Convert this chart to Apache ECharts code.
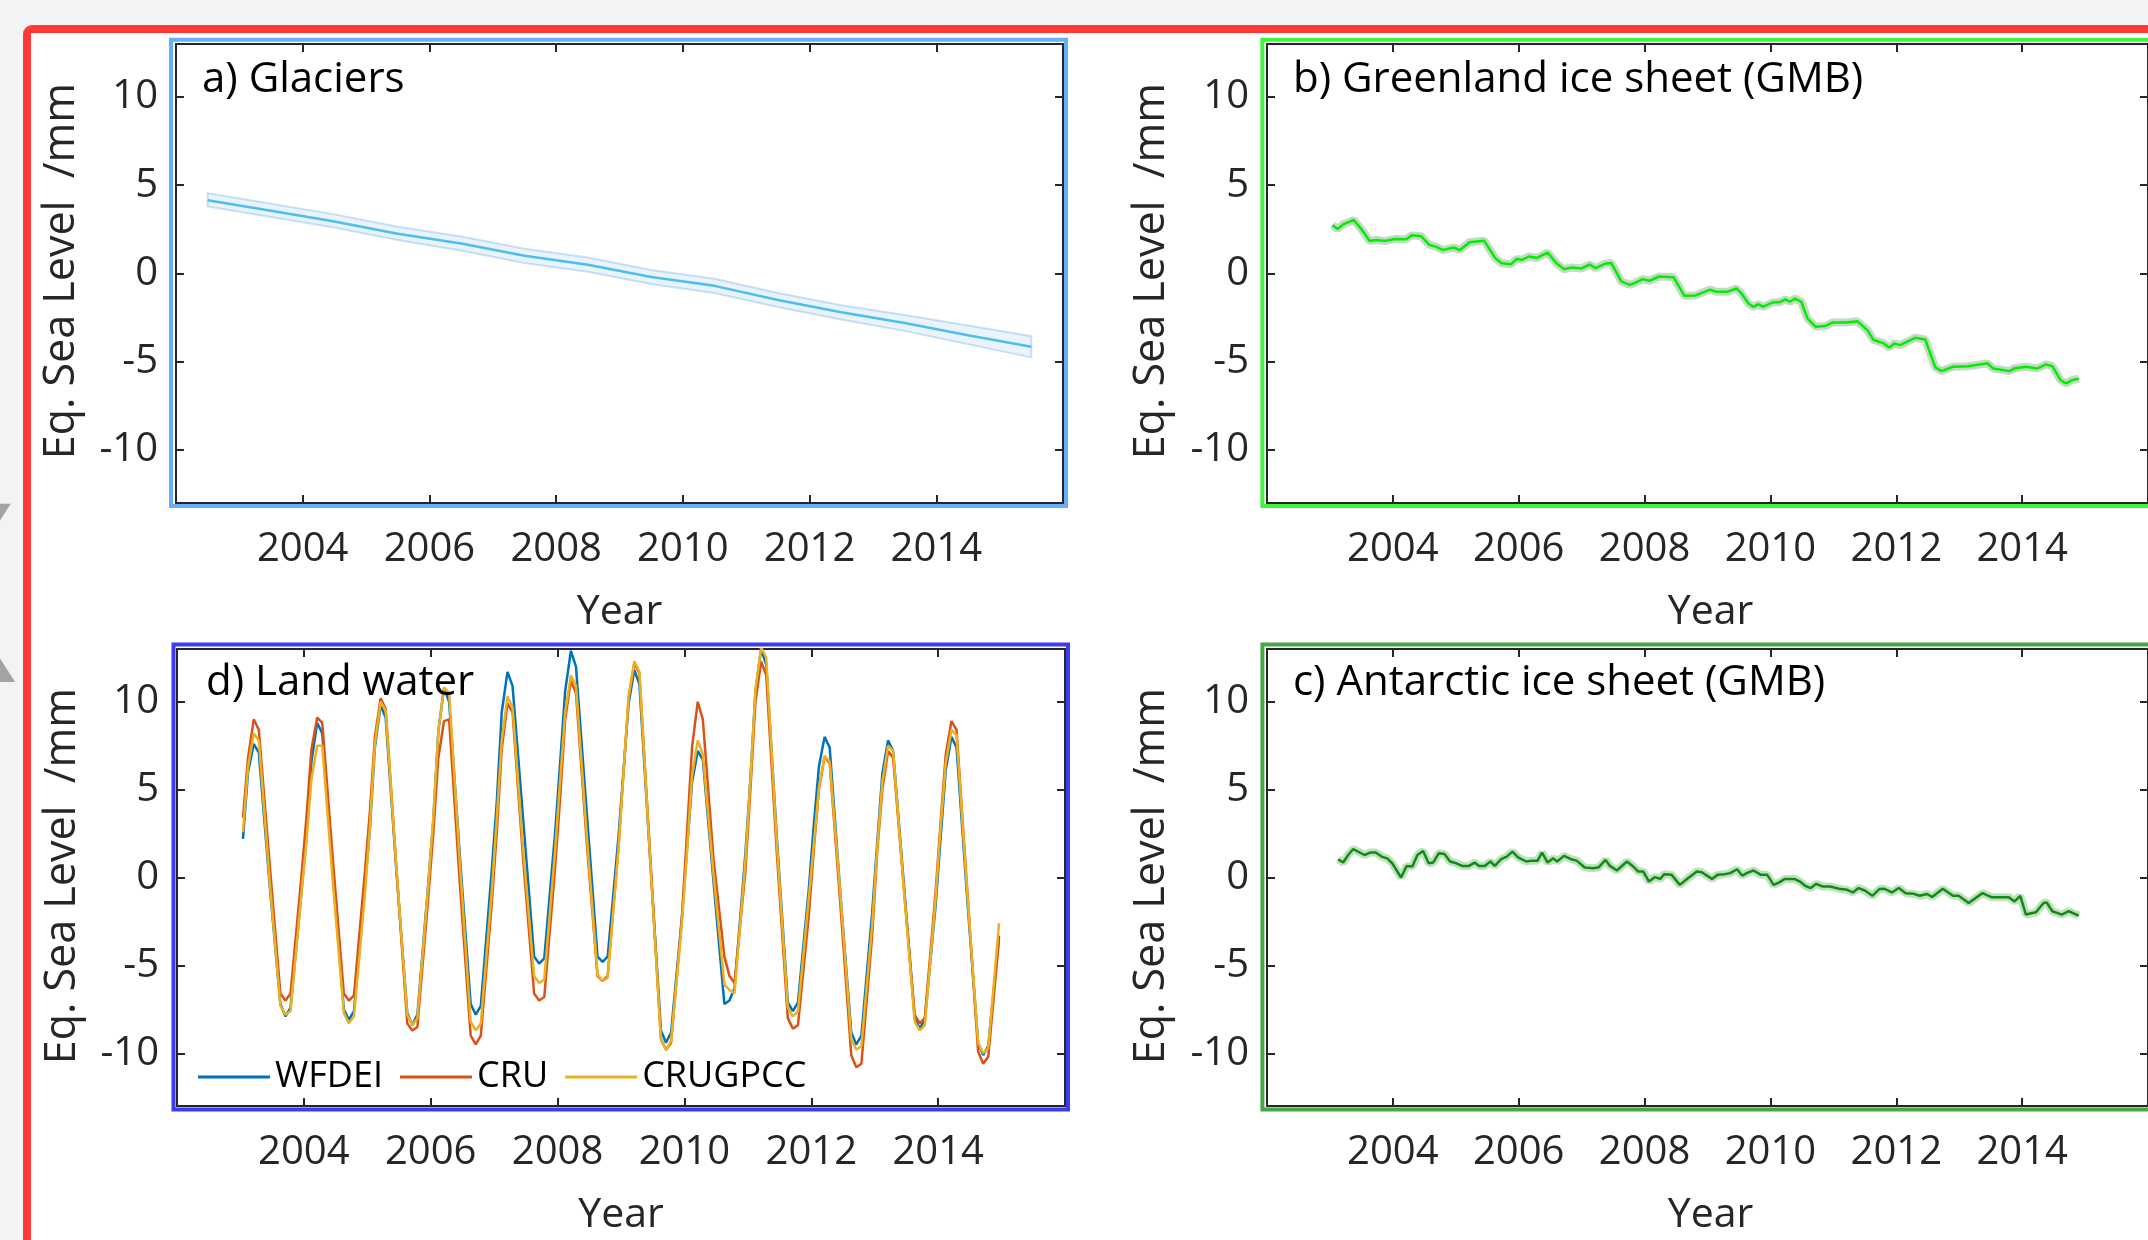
<!DOCTYPE html>
<html>
<head>
<meta charset="utf-8">
<script src="https://cdn.jsdelivr.net/npm/echarts@6/dist/echarts.min.js"></script>
<style>
  html, body { margin: 0; padding: 0; background: #f2f3f5; }
  #chart { width: 2148px; height: 1240px; }
</style>
</head>
<body>
<div id="chart"></div>
<script>
// ---- data ----
var yearTicks = [2004, 2006, 2008, 2010, 2012, 2014];
var levelTicks = [-10, -5, 0, 5, 10];

// a) Glaciers: centre line and uncertainty band
var glacierTime  = [2002.5, 2003.5, 2004.5, 2005.5, 2006.5, 2007.5, 2008.5, 2009.5, 2010.5, 2011.5, 2012.5, 2013.5, 2014.5, 2015.5];
var glacierValue = [4.15, 3.55, 2.95, 2.25, 1.7, 1.0, 0.5, -0.2, -0.7, -1.5, -2.2, -2.8, -3.5, -4.15];
var glacierUpper = [4.55, 3.95, 3.35, 2.65, 2.1, 1.4, 0.9, 0.2, -0.3, -1.1, -1.8, -2.35, -2.95, -3.55];
var glacierLower = [3.8, 3.2, 2.6, 1.9, 1.3, 0.6, 0.1, -0.6, -1.1, -1.9, -2.6, -3.25, -4.0, -4.75];

// b) Greenland ice sheet (GMB)
var greenTime = [2003.04,2003.12,2003.21,2003.38,2003.53,2003.63,2003.74,2003.87,2004.03,2004.21,2004.30,2004.45,2004.58,2004.68,2004.80,2004.97,2005.06,2005.22,2005.45,2005.63,2005.73,2005.88,2005.97,2006.05,2006.16,2006.29,2006.46,2006.60,2006.72,2006.84,2006.99,2007.13,2007.22,2007.37,2007.47,2007.63,2007.76,2007.84,2007.97,2008.08,2008.23,2008.46,2008.63,2008.81,2009.04,2009.14,2009.31,2009.46,2009.54,2009.65,2009.73,2009.81,2009.88,2010.04,2010.15,2010.24,2010.31,2010.39,2010.49,2010.59,2010.72,2010.87,2010.99,2011.20,2011.38,2011.54,2011.64,2011.80,2011.89,2011.97,2012.06,2012.30,2012.46,2012.62,2012.72,2012.90,2013.14,2013.45,2013.54,2013.80,2013.87,2014.06,2014.24,2014.38,2014.48,2014.61,2014.70,2014.79,2014.90];
var greenValue = [2.74,2.52,2.78,3.03,2.37,1.84,1.90,1.84,1.95,1.94,2.16,2.11,1.62,1.52,1.33,1.48,1.32,1.77,1.86,0.86,0.58,0.53,0.83,0.77,0.96,0.88,1.18,0.58,0.24,0.34,0.28,0.51,0.30,0.55,0.60,-0.45,-0.64,-0.55,-0.32,-0.41,-0.17,-0.21,-1.26,-1.24,-0.91,-1.04,-1.04,-0.85,-1.13,-1.70,-1.89,-1.74,-1.89,-1.64,-1.62,-1.47,-1.60,-1.42,-1.60,-2.55,-3.02,-2.98,-2.77,-2.77,-2.70,-3.21,-3.77,-3.96,-4.19,-3.96,-4.06,-3.64,-3.74,-5.32,-5.53,-5.28,-5.25,-5.09,-5.38,-5.53,-5.38,-5.28,-5.38,-5.15,-5.25,-6.04,-6.23,-6.04,-5.96];

// c) Antarctic ice sheet (GMB)
var antTime = [2003.13,2003.21,2003.29,2003.37,2003.55,2003.64,2003.73,2003.82,2003.91,2003.99,2004.13,2004.22,2004.31,2004.39,2004.48,2004.57,2004.64,2004.73,2004.82,2004.91,2005.01,2005.10,2005.21,2005.30,2005.37,2005.46,2005.55,2005.62,2005.72,2005.81,2005.90,2005.99,2006.12,2006.21,2006.30,2006.37,2006.46,2006.55,2006.61,2006.72,2006.83,2006.92,2007.05,2007.19,2007.27,2007.38,2007.45,2007.56,2007.72,2007.81,2007.90,2007.98,2008.07,2008.16,2008.25,2008.31,2008.43,2008.56,2008.69,2008.83,2008.91,2009.07,2009.16,2009.27,2009.36,2009.47,2009.55,2009.64,2009.73,2009.85,2009.95,2010.05,2010.14,2010.23,2010.38,2010.47,2010.55,2010.64,2010.73,2010.82,2010.95,2011.09,2011.22,2011.31,2011.40,2011.50,2011.62,2011.73,2011.81,2011.93,2012.04,2012.15,2012.27,2012.37,2012.49,2012.57,2012.74,2012.90,2012.99,2013.15,2013.37,2013.52,2013.79,2013.88,2013.97,2014.06,2014.22,2014.34,2014.39,2014.48,2014.63,2014.74,2014.90];
var antValue = [1.04,0.85,1.28,1.62,1.28,1.42,1.42,1.19,1.09,0.81,0.00,0.66,0.62,1.28,1.51,0.81,0.85,1.38,1.34,0.91,0.81,0.66,0.66,0.85,0.66,0.66,0.91,0.66,1.04,1.19,1.47,1.15,0.91,0.96,0.96,1.42,0.85,1.09,0.91,1.23,1.04,0.96,0.57,0.53,0.58,1.00,0.66,0.40,0.91,0.66,0.34,0.34,-0.23,0.02,-0.08,0.19,0.15,-0.42,-0.04,0.34,0.30,-0.08,0.15,0.19,0.25,0.47,0.11,0.28,0.40,0.15,0.15,-0.42,-0.28,-0.08,-0.08,-0.23,-0.47,-0.60,-0.36,-0.51,-0.51,-0.64,-0.70,-0.85,-0.60,-0.74,-1.04,-0.66,-0.64,-0.85,-0.60,-0.89,-0.92,-1.04,-0.94,-1.11,-0.64,-1.04,-1.04,-1.45,-0.89,-1.13,-1.13,-1.36,-1.04,-2.11,-1.98,-1.45,-1.42,-1.92,-2.11,-1.92,-2.17];

// d) Land water: samples at these fractions of each year
var landYears = [2003, 2004, 2005, 2006, 2007, 2008, 2009, 2010, 2011, 2012, 2013, 2014];
var landPhase = [0.04, 0.12, 0.21, 0.29, 0.46, 0.63, 0.71, 0.79, 0.96];
var wfdei = [
  2.2, 6.0, 7.6, 7.1, -0.4, -7.2, -7.9, -7.4, -0.9,
  2.3, 6.6, 8.8, 8.2, 0.1, -7.5, -8.1, -7.6, -0.6,
  2.7, 7.4, 9.8, 9.1, 0.3, -7.7, -8.4, -7.8, -0.4,
  3.2, 8.3, 10.8, 10.0, 1.2, -7.2, -7.8, -7.3, 0.3,
  4.2, 9.4, 11.7, 10.9, 3.2, -4.5, -4.9, -4.6, 2.5,
  6.5, 10.6, 12.9, 12.0, 3.7, -4.5, -4.8, -4.5, 2.3,
  6.1, 9.9, 11.8, 11.0, 1.0, -8.7, -9.4, -8.8, -2.3,
  1.6, 5.4, 7.2, 6.7, -0.3, -7.2, -7.0, -6.3, 1.3,
  5.6, 10.6, 13.0, 12.1, 2.1, -7.1, -7.6, -7.1, -0.7,
  3.0, 6.3, 8.0, 7.4, -1.0, -8.8, -9.5, -9.0, -2.0,
  2.0, 5.9, 7.8, 7.2, -0.4, -8.0, -8.6, -8.1, -1.6,
  2.3, 6.1, 8.0, 7.4, -1.3, -9.4, -10.1, -9.6, -3.3
];
var cru = [
  3.4, 6.8, 9.0, 8.4, 0.8, -6.6, -7.0, -6.6, 0.0,
  3.4, 7.3, 9.1, 8.8, 0.9, -6.6, -7.0, -6.7, 0.2,
  3.7, 8.0, 10.2, 9.6, 0.5, -8.3, -8.7, -8.5, -1.2,
  2.5, 6.8, 8.9, 9.0, -0.4, -9.0, -9.5, -9.0, -1.6,
  2.5, 7.3, 9.9, 9.4, 0.9, -6.6, -7.0, -6.8, 0.5,
  4.5, 9.0, 11.2, 10.5, 2.0, -5.6, -5.9, -5.6, 1.7,
  6.0, 10.2, 12.2, 11.6, 1.2, -9.2, -9.8, -9.4, -2.3,
  2.5, 7.4, 10.0, 9.0, 1.0, -4.5, -5.6, -6.0, 0.3,
  5.0, 10.0, 12.3, 11.5, 1.2, -8.0, -8.6, -8.4, -2.2,
  1.6, 5.0, 6.9, 6.5, -1.6, -10.1, -10.8, -10.6, -3.3,
  1.5, 5.0, 7.2, 6.8, -0.6, -7.8, -8.3, -8.0, -0.8,
  3.2, 7.0, 8.9, 8.4, -0.8, -9.9, -10.6, -10.2, -3.5
];
var crugpcc = [
  2.6, 6.3, 8.2, 7.8, -0.2, -7.3, -7.8, -7.6, -1.0,
  2.0, 5.6, 7.5, 7.5, -0.4, -7.7, -8.3, -7.9, -1.1,
  2.8, 7.6, 10.0, 9.5, 0.5, -7.8, -8.4, -8.0, -0.5,
  3.4, 8.3, 10.8, 10.5, 0.8, -8.2, -8.7, -8.3, -0.9,
  3.3, 7.8, 10.3, 9.7, 1.5, -5.6, -6.0, -5.8, 1.5,
  5.5, 9.4, 11.5, 10.9, 2.4, -5.5, -5.9, -5.7, 1.6,
  6.0, 10.3, 12.3, 11.7, 1.0, -9.2, -9.8, -9.3, -2.6,
  1.4, 5.8, 7.8, 7.0, 0.1, -6.1, -6.4, -6.6, 0.9,
  5.5, 10.7, 13.1, 12.5, 1.8, -7.4, -7.9, -7.6, -1.2,
  1.9, 5.1, 6.9, 6.6, -1.0, -9.2, -9.8, -9.6, -2.7,
  1.7, 5.4, 7.5, 7.2, -0.7, -8.2, -8.7, -8.4, -1.2,
  2.9, 6.5, 8.4, 8.1, -0.9, -9.4, -10.0, -9.7, -2.6
];

// ---- helpers ----
var FONT = '"Open Sans", "Noto Sans", sans-serif';
var INK = '#262626';

function pairs(xs, ys) {
  var out = [];
  for (var i = 0; i < Math.min(xs.length, ys.length); i++) out.push([xs[i], ys[i]]);
  return out;
}

var landTime = [];
landYears.forEach(function (y) {
  landPhase.forEach(function (p) { landTime.push(+(y + p).toFixed(2)); });
});

var grids = [
  { left: 176, top: 44, width: 887, height: 459 },   // a
  { left: 1267, top: 44, width: 887, height: 459 },  // b
  { left: 177, top: 649, width: 888, height: 457 },  // d
  { left: 1267, top: 649, width: 887, height: 457 }  // c
];

var xAxes = [], yAxes = [];
grids.forEach(function (g, i) {
  var line = { show: true, onZero: false, lineStyle: { color: INK, width: 2 } };
  var tick = { show: true, inside: true, length: 8, lineStyle: { color: INK, width: 2 } };
  xAxes.push({
    type: 'value', gridIndex: i, position: 'bottom', min: 2002, max: 2016, interval: 2,
    axisLine: line, axisTick: tick, splitLine: { show: false },
    axisLabel: { margin: 27, fontSize: 40, color: INK, fontFamily: FONT,
      showMinLabel: false, showMaxLabel: false,
      formatter: function (v) { return yearTicks.indexOf(v) >= 0 ? String(v) : ''; } }
  });
  xAxes.push({
    type: 'value', gridIndex: i, position: 'top', min: 2002, max: 2016, interval: 2,
    axisLine: line, axisTick: tick, splitLine: { show: false }, axisLabel: { show: false }
  });
  yAxes.push({
    type: 'value', gridIndex: i, position: 'left', min: -13, max: 13,
    axisLine: line, splitLine: { show: false },
    axisTick: Object.assign({ customValues: levelTicks }, tick),
    axisLabel: { customValues: levelTicks, margin: 18, fontSize: 40, color: INK, fontFamily: FONT }
  });
  yAxes.push({
    type: 'value', gridIndex: i, position: 'right', min: -13, max: 13,
    axisLine: line, splitLine: { show: false },
    axisTick: Object.assign({ customValues: levelTicks }, tick),
    axisLabel: { show: false }
  });
});

function lineSeries(name, grid, data, color, width, z) {
  return {
    name: name, type: 'line', xAxisIndex: grid * 2, yAxisIndex: grid * 2,
    data: data, symbol: 'none', showSymbol: false, z: z || 3,
    lineStyle: { color: color, width: width }, itemStyle: { color: color }
  };
}

function glacierBand(params, api) {
  if (params.dataIndex !== 0) return null;
  var pts = [];
  for (var i = 0; i < glacierTime.length; i++) pts.push(api.coord([glacierTime[i], glacierUpper[i]]));
  for (var j = glacierTime.length - 1; j >= 0; j--) pts.push(api.coord([glacierTime[j], glacierLower[j]]));
  return {
    type: 'polygon', shape: { points: pts },
    style: { fill: 'rgba(120,185,240,0.16)', stroke: 'rgba(110,170,235,0.35)', lineWidth: 2 }
  };
}

var series = [
  {
    type: 'custom', xAxisIndex: 0, yAxisIndex: 0, renderItem: glacierBand, z: 2,
    data: glacierTime.map(function (t, i) { return [t, glacierUpper[i], glacierLower[i]]; }),
    encode: { x: 0, y: [1, 2] }
  },
  lineSeries('Glaciers', 0, pairs(glacierTime, glacierValue), '#4DBEEE', 2.5),
  lineSeries('GrISband', 1, pairs(greenTime, greenValue), 'rgba(90,150,90,0.35)', 8, 2),
  lineSeries('Greenland', 1, pairs(greenTime, greenValue), '#00ee00', 2.5),
  lineSeries('WFDEI', 2, pairs(landTime, wfdei), '#0072BD', 2.5),
  lineSeries('CRU', 2, pairs(landTime, cru), '#D95319', 2.5),
  lineSeries('CRUGPCC', 2, pairs(landTime, crugpcc), '#EDB120', 2.5),
  lineSeries('AISband', 3, pairs(antTime, antValue), 'rgba(40,160,40,0.3)', 8, 2),
  lineSeries('Antarctic', 3, pairs(antTime, antValue), '#138a13', 2.5)
];

function txt(x, y, s, size, opts) {
  opts = opts || {};
  return {
    type: 'text', x: x, y: y, rotation: opts.rotation || 0, z: 20,
    style: { text: s, fontSize: size, fontFamily: FONT, fill: opts.color || '#000',
      align: opts.align || 'left', verticalAlign: 'middle' }
  };
}
function frame(x, y, w, h, color) {
  return { type: 'rect', z: 1, shape: { x: x, y: y, width: w, height: h },
    style: { fill: null, stroke: color, lineWidth: 4 } };
}

var yName = 'Eq. Sea Level  /mm';
var graphic = [
  { type: 'rect', z: 0, shape: { x: 27, y: 29, width: 2200, height: 1300, r: 5 },
    style: { fill: '#ffffff', stroke: '#ff3838', lineWidth: 8 } },
  { type: 'text', x: 16, y: 611, z: 0,
    style: { text: 'X', fontSize: 250, fontFamily: FONT, fill: '#a3a3a3', align: 'right', verticalAlign: 'middle' } },
  frame(171, 39.7, 895, 466.3, '#66b0f8'),
  frame(1262.4, 39.7, 1000, 466.3, '#3df53d'),
  frame(173.5, 644.5, 894.5, 465, '#3b3bf2'),
  frame(1262.4, 644.5, 1000, 465, '#45a845'),
  txt(202, 80, 'a) Glaciers', 42),
  txt(1293, 80, 'b) Greenland ice sheet (GMB)', 42),
  txt(206, 683, 'd) Land water', 42),
  txt(1293, 683, 'c) Antarctic ice sheet (GMB)', 42),
  txt(62, 271, yName, 43, { rotation: Math.PI / 2, align: 'center', color: INK }),
  txt(1152, 271, yName, 43, { rotation: Math.PI / 2, align: 'center', color: INK }),
  txt(63, 876, yName, 43, { rotation: Math.PI / 2, align: 'center', color: INK }),
  txt(1152, 876, yName, 43, { rotation: Math.PI / 2, align: 'center', color: INK }),
  txt(619.5, 612, 'Year', 41, { align: 'center', color: INK }),
  txt(1710.5, 612, 'Year', 41, { align: 'center', color: INK }),
  txt(621, 1215, 'Year', 41, { align: 'center', color: INK }),
  txt(1710.5, 1215, 'Year', 41, { align: 'center', color: INK })
];

var chart = echarts.init(document.getElementById('chart'));
chart.setOption({
  backgroundColor: '#f2f3f5',
  animation: false,
  grid: grids,
  xAxis: xAxes,
  yAxis: yAxes,
  legend: {
    data: ['WFDEI', 'CRU', 'CRUGPCC'],
    left: 198, top: 1059, padding: 0,
    icon: 'rect', itemWidth: 72, itemHeight: 3, itemGap: 17,
    textStyle: { fontSize: 36, color: '#000', fontFamily: FONT }
  },
  graphic: graphic,
  series: series
});
</script>
</body>
</html>
